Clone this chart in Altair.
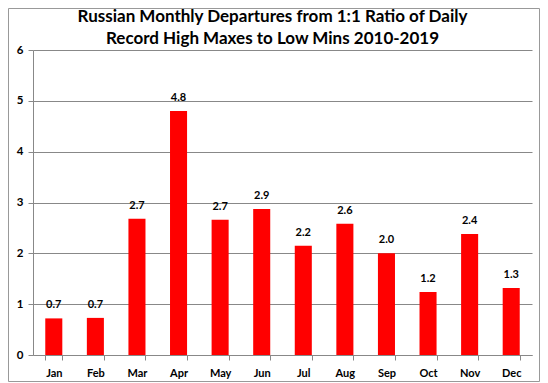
import altair as alt
import pandas as pd

months = ["Jan", "Feb", "Mar", "Apr", "May", "Jun", "Jul", "Aug", "Sep", "Oct", "Nov", "Dec"]
values = [0.72, 0.73, 2.68, 4.80, 2.66, 2.87, 2.15, 2.58, 2.00, 1.24, 2.38, 1.32]
labels = ["0.7", "0.7", "2.7", "4.8", "2.7", "2.9", "2.2", "2.6", "2.0", "1.2", "2.4", "1.3"]
title_lines = ["Russian Monthly Departures from 1:1 Ratio of Daily",
               "Record High Maxes to Low Mins 2010-2019"]

df = pd.DataFrame({"month": months, "value": values, "label": labels})
one = pd.DataFrame({"a": [0]})

W, H = 499, 305
PL, PT, PR, PB = 25, 42, 8, 27

x = alt.X("month:N", sort=months, title=None,
          scale=alt.Scale(paddingInner=0.59, paddingOuter=0.295),
          axis=alt.Axis(labelAngle=0, labelFont="Lato", labelFontWeight="bold",
                        labelFontSize=11, labelColor="black", labelPadding=7,
                        tickBand="extent", tickSize=5, tickColor="#888888",
                        domainColor="#888888", grid=False))
y = alt.Y("value:Q", title=None,
          scale=alt.Scale(domain=[0, 6]),
          axis=alt.Axis(values=[0, 1, 2, 3, 4, 5, 6], format="d",
                        labelFont="Lato", labelFontWeight="bold", labelFontSize=11.5,
                        labelColor="black", labelPadding=5, tickSize=5,
                        tickColor="#888888", domainColor="#888888",
                        gridColor="#888888", gridOpacity=1))

bars = alt.Chart(df).mark_bar(color="#FF0000").encode(x=x, y=y)
text = alt.Chart(df).mark_text(dy=-8, baseline="bottom", font="Lato",
                               fontWeight="bold", fontSize=11, color="black").encode(
    x=alt.X("month:N", sort=months), y="value:Q", text="label:N")
border = alt.Chart(one).mark_rect(fill=None, stroke="#999999", strokeWidth=1).encode(
    x=alt.value(-PL + 0.5), x2=alt.value(W + PR - 0.5),
    y=alt.value(-PT + 0.5), y2=alt.value(H + PB - 0.5))

tstyle = dict(font="Lato", fontSize=17, fontWeight="bold", color="black",
              align="center", baseline="alphabetic")
title1 = alt.Chart(one).mark_text(**tstyle).encode(
    x=alt.value(239.5), y=alt.value(-28), text=alt.value(title_lines[0]))
title2 = alt.Chart(one).mark_text(**tstyle).encode(
    x=alt.value(239.5), y=alt.value(-6), text=alt.value(title_lines[1]))

chart = alt.layer(bars, text, border, title1, title2).properties(
    width=W, height=H,
    autosize=alt.AutoSizeParams(type="none"),
    padding={"left": PL, "top": PT, "right": PR, "bottom": PB},
).configure_view(stroke=None)

chart.save("out.html", embed_options={"renderer": "svg", "actions": False})
